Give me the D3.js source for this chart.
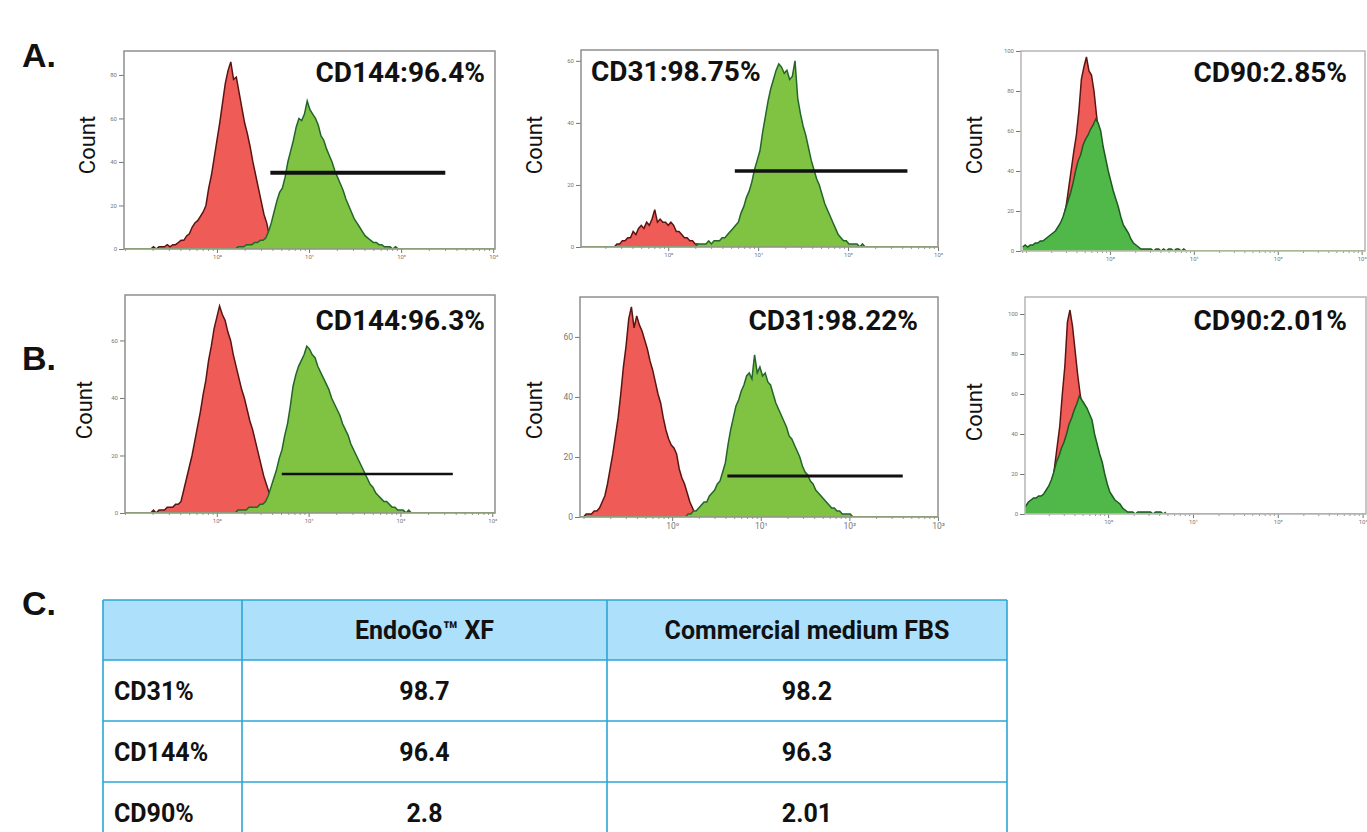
<!DOCTYPE html>
<html><head><meta charset="utf-8">
<script src="https://cdn.jsdelivr.net/npm/d3@7"></script>
<style>body{margin:0;background:#fff}svg{display:block}</style>
</head><body><svg id="c" width="1367" height="832"></svg>
<script>
// ---------- DATA (histogram counts per bin, bins are STEP decades wide) ----------
const STEP = 0.03;
// A. EndoGo XF
const a1RedStart = -0.75;
const a1Red = [0,0,1,0,1,1,1,2,1,2, 2,3,4,4,6,7,10,12,13,15, 17,20,28,34,42,50,58,67,76,82, 86,78,79,72,65,58,53,47,40,34, 28,22,16,12,6,2,1,0];
const a1GreenStart = 0.20;
const a1Green = [0,1,1,1,2,2,2,3,3,4, 4,5,8,12,17,22,26,28,33,40, 45,50,56,60,59,62,68,64,62,60, 57,52,50,46,43,40,36,33,30,27, 23,20,17,14,12,10,8,6,5,4, 3,3,2,2,1,1,1,0,1,0, 0];
const a2RedStart = -0.60;
const a2Red = [0,1,1,2,2,3,3,5,4,6, 7,6,8,7,9,12,8,9,8,8, 7,8,7,5,5,4,3,3,2,2, 1,1,0,0];
const a2GreenStart = 0.30;
const a2Green = [0,1,1,1,1,2,1,2,2,2, 3,3,4,5,6,7,8,11,13,16, 18,21,25,28,31,37,42,47,51,54, 57,59,58,56,57,54,55,60,48,43, 39,36,32,28,25,22,20,17,14,12, 10,8,6,4,3,2,2,1,1,1, 1,0,1,0,0,0];
const a3RedStart = -0.70;
const a3Red = [3,4,6,8,12,17,23,32,41,50, 58,70,86,92,97,90,88,80,68,58, 50,42,35,28,22,16,12,8,5,3, 2,1,0];
const a3GreenStart = -1.04;
const a3Green = [2,3,2,3,3,4,4,5,5,6, 7,8,9,10,12,14,17,21,25,29, 34,40,45,48,53,56,58,61,63,66, 64,60,52,46,40,35,30,26,22,17, 13,11,9,6,4,3,2,1,1,1, 1,1,0,1,1,0,1,0,1,1, 0,1,1,0,1,0];
// B. Commercial medium FBS
const b1RedStart = -0.75;
const b1Red = [0,0,1,0,1,1,1,2,2,2, 3,3,4,8,12,16,20,25,30,35, 41,46,53,58,64,68,72,69,67,63, 60,55,51,47,43,40,36,32,29,25, 21,17,13,10,7,4,1,0];
const b1GreenStart = 0.20;
const b1Green = [0,1,1,1,1,2,2,2,2,3, 3,4,6,9,12,15,19,22,27,31, 37,44,48,51,53,55,58,57,55,54, 51,49,47,45,43,40,38,36,34,31, 29,27,24,22,20,18,16,14,12,10, 9,7,6,5,4,4,3,2,2,1, 1,1,0,1,0,0];
const b2RedStart = -1.00;
const b2Red = [0,1,1,1,2,2,3,5,7,11, 16,21,27,33,41,50,57,66,70,63, 67,64,62,59,56,52,49,45,41,38, 33,29,26,24,23,21,16,13,11,8, 5,3,1,0];
const b2GreenStart = 0.15;
const b2Green = [0,1,1,2,2,3,4,5,5,7, 8,9,11,12,15,18,24,29,33,37, 39,42,44,47,48,46,54,48,50,47, 48,45,44,41,38,36,34,32,30,27, 26,24,22,20,17,15,14,12,11,9, 8,7,6,5,4,3,3,2,2,1, 1,1,1,0,0];
const b3RedStart = -0.75;
const b3Red = [4,6,9,14,24,34,44,60,74,96, 102,94,82,70,60,52,45,38,32,26, 21,17,13,10,7,5,3,2,1,0];
const b3GreenStart = -1.00;
const b3Green = [3,4,6,7,8,8,9,9,10,12, 14,17,21,26,29,33,36,40,45,48, 52,55,59,57,55,53,50,47,40,35, 30,26,20,15,11,9,7,6,5,3, 2,1,1,1,0,1,1,1,1,1, 1,0,1,1,1,0,1];
// gates: [from, to, count level]
const a1Gate = [3.8, 302, 35];
const a2Gate = [5.5, 457, 24.5];
const b1Gate = [5.1, 372, 13.6];
const b2Gate = [4.2, 400, 13.7];
const panelLabels = ["CD144:96.4%","CD31:98.75%","CD90:2.85%","CD144:96.3%","CD31:98.22%","CD90:2.01%"];
const yTickSets = [[0,20,40,60,80],[0,20,40,60],[0,20,40,60,80,100],[0,20,40,60],[0,20,40,60],[0,20,40,60,80,100]];
const xMajorTicks = [1,10,100,1000];
const xTickLabels = ["10\u2070","10\u00b9","10\u00b2","10\u00b3"];
const sectionLetters = ["A.","B.","C."];
const tableHeader = ["", "EndoGo\u2122 XF", "Commercial medium FBS"];
const tableRows = ["CD31%","CD144%","CD90%"];
const endoGoValues = ["98.7","96.4","2.8"];
const fbsValues = ["98.2","96.3","2.01"];

// ---------- LAYOUT ----------
const series = [
  {red:a1Red, rs:a1RedStart, green:a1Green, gs:a1GreenStart, gate:a1Gate},
  {red:a2Red, rs:a2RedStart, green:a2Green, gs:a2GreenStart, gate:a2Gate},
  {red:a3Red, rs:a3RedStart, green:a3Green, gs:a3GreenStart, gate:null},
  {red:b1Red, rs:b1RedStart, green:b1Green, gs:b1GreenStart, gate:b1Gate},
  {red:b2Red, rs:b2RedStart, green:b2Green, gs:b2GreenStart, gate:b2Gate},
  {red:b3Red, rs:b3RedStart, green:b3Green, gs:b3GreenStart, gate:null},
];
const layout = [
  {left:124,right:495,top:51,bottom:249,lo:-1.01,hi:3.02,yMax:91,lx:485,ly:82,anchor:'end',cx:95,cy:145,tf:6,frame:'#8f8f8f',cd90:false,gw:4},
  {left:581,right:938,top:50,bottom:247,lo:-0.97,hi:3.0,yMax:63.5,lx:591,ly:81,anchor:'start',cx:542,cy:145,tf:6,frame:'#8f8f8f',cd90:false,gw:3.5},
  {left:1021,right:1365,top:51,bottom:251,lo:-1.06,hi:3.04,yMax:100,lx:1347,ly:82,anchor:'end',cx:982,cy:145,tf:6,frame:'#b5b5b5',cd90:true},
  {left:125,right:495,top:295,bottom:513,lo:-1.0,hi:3.03,yMax:75.8,lx:485,ly:330,anchor:'end',cx:92,cy:410,tf:6,frame:'#8f8f8f',cd90:false,gw:2.5},
  {left:580,right:938,top:297,bottom:517,lo:-1.04,hi:3.0,yMax:73.3,lx:918,ly:330,anchor:'end',cx:542,cy:410,tf:8.5,frame:'#8f8f8f',cd90:false,gw:3},
  {left:1025,right:1366,top:297,bottom:514,lo:-0.98,hi:3.04,yMax:108.5,lx:1347,ly:330,anchor:'end',cx:982,cy:412,tf:6,frame:'#b5b5b5',cd90:true},
];

const svg = d3.select('#c');
svg.append('rect').attr('width',1367).attr('height',832).attr('fill','#fff');
const defs = svg.append('defs');

layout.forEach((L, k) => {
  const s = series[k];
  const x = d3.scaleLog().domain([10**L.lo, 10**L.hi]).range([L.left, L.right]);
  const y = d3.scaleLinear().domain([0, L.yMax]).range([L.bottom, L.top]);
  const g = svg.append('g');
  defs.append('clipPath').attr('id','clip'+k).append('rect')
    .attr('x',L.left).attr('y',L.top).attr('width',L.right-L.left).attr('height',L.bottom-L.top);
  const plot = g.append('g').attr('clip-path','url(#clip'+k+')');
  const mk = (start) => d3.area()
    .x((d,i) => x(10**(start + i*STEP)))
    .y0(y(0)).y1(d => y(d));
  const ln = (start) => d3.line()
    .x((d,i) => x(10**(start + i*STEP))).y(d => y(d));
  const greenFill = L.cd90 ? '#4fb848' : '#80c342';
  const greenStroke = L.cd90 ? '#1d5a22' : '#23662b';
  plot.append('path').datum(s.red).attr('d', mk(s.rs)).attr('fill','#ef5b57');
  plot.append('path').datum(s.red).attr('d', ln(s.rs)).attr('fill','none').attr('stroke','#5a1512').attr('stroke-width',1.5);
  plot.append('path').datum(s.green).attr('d', mk(s.gs)).attr('fill',greenFill);
  plot.append('path').datum(s.green).attr('d', ln(s.gs)).attr('fill','none').attr('stroke',greenStroke).attr('stroke-width',1.5);
  // baseline
  plot.append('line').attr('x1',L.left).attr('x2',L.right).attr('y1',y(0)).attr('y2',y(0))
    .attr('stroke','#8cc63f').attr('stroke-width',2);
  // minor x ticks
  const minor = x.ticks().filter(v => xMajorTicks.indexOf(v) < 0);
  g.append('g').attr('transform','translate(0,'+y(0)+')')
    .call(d3.axisBottom(x).tickValues(minor).tickSize(2).tickFormat(''))
    .call(a => { a.select('.domain').remove(); a.selectAll('line').attr('stroke','#999'); });
  // major x ticks
  g.append('g').attr('transform','translate(0,'+y(0)+')')
    .call(d3.axisBottom(x).tickValues(xMajorTicks).tickSize(4).tickPadding(2).tickFormat((d,i)=>xTickLabels[i]))
    .call(a => { a.select('.domain').remove();
      a.selectAll('line').attr('stroke','#777');
      a.selectAll('text').attr('font-size',L.tf).attr('fill','#777').attr('font-family','Roboto, sans-serif'); });
  // y axis
  g.append('g').attr('transform','translate('+L.left+',0)')
    .call(d3.axisLeft(y).tickValues(yTickSets[k]).tickSize(5).tickPadding(2).tickFormat(d3.format('d')))
    .call(a => { a.select('.domain').remove();
      a.selectAll('line').attr('stroke','#777');
      a.selectAll('text').attr('font-size',L.tf).attr('fill','#777').attr('font-family','Roboto, sans-serif'); });
  // frame
  g.append('rect').attr('x',L.left).attr('y',L.top).attr('width',L.right-L.left).attr('height',L.bottom-L.top)
    .attr('fill','none').attr('stroke',L.frame).attr('stroke-width',1.5);
  // gate
  if (s.gate) {
    g.append('line').attr('x1',x(s.gate[0])).attr('x2',x(s.gate[1]))
      .attr('y1',y(s.gate[2])).attr('y2',y(s.gate[2]))
      .attr('stroke','#111').attr('stroke-width',L.gw);
  }
  // label
  g.append('text').attr('x',L.lx).attr('y',L.ly).attr('text-anchor',L.anchor)
    .attr('font-family','Roboto, sans-serif').attr('font-weight',700).attr('font-size',28)
    .attr('fill','#111').text(panelLabels[k]);
  // Count
  g.append('text').attr('transform','translate('+L.cx+','+L.cy+') rotate(-90)')
    .attr('text-anchor','middle').attr('font-family','Roboto, sans-serif').attr('font-size',22)
    .attr('fill','#111').text('Count');
});

// section letters
const letterY = [67, 370, 615];
sectionLetters.forEach((t,i) => {
  svg.append('text').attr('x',22).attr('y',letterY[i])
    .attr('font-family','"Liberation Sans", Arial, sans-serif').attr('font-weight',700)
    .attr('font-size',34).attr('fill','#111').text(t);
});

// table
const colX = [103, 242, 607, 1007];
const rowY = [600, 660, 721, 782, 843];
const tg = svg.append('g');
tg.append('rect').attr('x',colX[0]).attr('y',rowY[0]).attr('width',colX[3]-colX[0]).attr('height',rowY[1]-rowY[0]).attr('fill','#ade0fa');
rowY.forEach(yv => tg.append('line').attr('x1',colX[0]).attr('x2',colX[3]).attr('y1',yv).attr('y2',yv).attr('stroke','#2ba6d6').attr('stroke-width',1.6));
colX.forEach(xv => tg.append('line').attr('x1',xv).attr('x2',xv).attr('y1',rowY[0]).attr('y2',rowY[4]).attr('stroke','#2ba6d6').attr('stroke-width',1.6));
const tText = (x, y, t, anchor) => tg.append('text').attr('x',x).attr('y',y).attr('text-anchor',anchor)
  .attr('font-family','Roboto, sans-serif').attr('font-weight',700).attr('font-size',25).attr('fill','#111').text(t);
const mid = (a,b) => (a+b)/2;
tableHeader.forEach((h,i) => { if (h) tText(mid(colX[i],colX[i+1]), mid(rowY[0],rowY[1])+9, h, 'middle'); });
tableRows.forEach((r,i) => {
  const yy = mid(rowY[i+1], rowY[i+2]) + 9;
  tText(colX[0]+11, yy, r, 'start');
  tText(mid(colX[1],colX[2]), yy, endoGoValues[i], 'middle');
  tText(mid(colX[2],colX[3]), yy, fbsValues[i], 'middle');
});
</script></body></html>
